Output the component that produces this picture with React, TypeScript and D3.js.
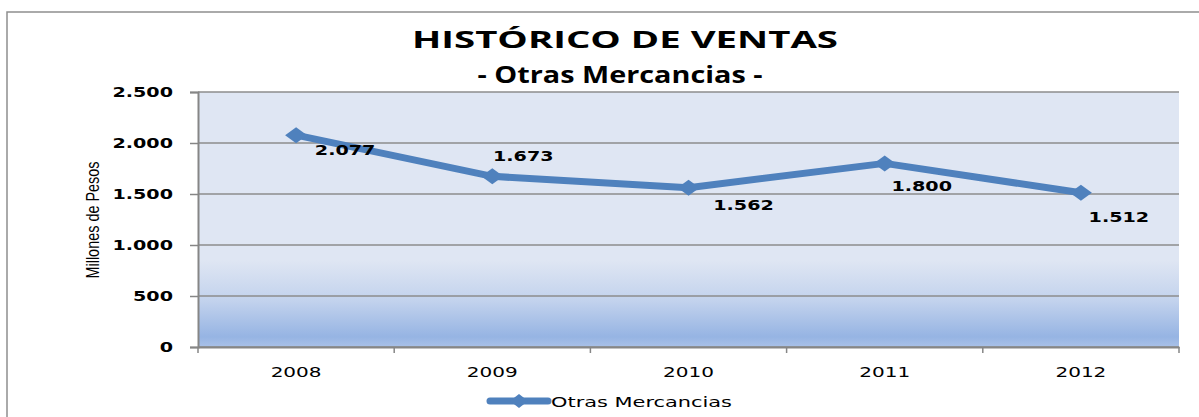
import { useEffect, useRef } from 'react'
import * as d3 from 'd3'

const years = ['2008', '2009', '2010', '2011', '2012']
const ventas = [2077, 1673, 1562, 1800, 1512]
const yTicks = [0, 500, 1000, 1500, 2000, 2500]
// manual data label placement (dx, dy from the point), like the original chart
const labelDx = [49, 31, 55, 37, 38]
const labelDy = [20, -15, 22, 28, 29]

const W = 1199
const H = 417
const SX = 1.42 // the source picture is stretched horizontally

const fmt = (v: number) => (v === 0 ? '0' : d3.format(',')(v).replace(/,/g, '.'))

export default function App() {
  const svgRef = useRef<SVGSVGElement>(null)

  useEffect(() => {
    if (!svgRef.current) return
    const svg = d3.select(svgRef.current)
    svg.selectAll('*').remove()

    const margin = { top: 92, right: 20, bottom: 70, left: 198 }
    const w = 1179 - margin.left
    const h = 347 - margin.top

    // outer chart border
    svg.append('rect')
      .attr('x', 7).attr('y', 12).attr('width', W + 20).attr('height', H + 20)
      .attr('fill', '#fff').attr('stroke', '#8e8e8e').attr('stroke-width', 1.5)

    // titles
    svg.append('text')
      .attr('x', 625).attr('y', 48)
      .attr('text-anchor', 'middle').attr('font-family', 'Open Sans').attr('font-weight', 'bold')
      .attr('font-size', '23px').attr('fill', '#000')
      .attr('textLength', 426).attr('lengthAdjust', 'spacingAndGlyphs')
      .text('HISTÓRICO DE VENTAS')
    svg.append('text')
      .attr('x', 620).attr('y', 83)
      .attr('text-anchor', 'middle').attr('font-family', 'Open Sans').attr('font-weight', 'bold')
      .attr('font-size', '23.5px').attr('fill', '#000')
      .attr('textLength', 285).attr('lengthAdjust', 'spacingAndGlyphs')
      .text('- Otras Mercancias -')

    const defs = svg.append('defs')
    const grad = defs.append('linearGradient')
      .attr('id', 'plot-bg').attr('x1', '0%').attr('y1', '0%').attr('x2', '0%').attr('y2', '100%')
    grad.append('stop').attr('offset', '0%').attr('stop-color', '#dfe6f3')
    grad.append('stop').attr('offset', '66%').attr('stop-color', '#dfe6f3')
    grad.append('stop').attr('offset', '82%').attr('stop-color', '#c2d2ed')
    grad.append('stop').attr('offset', '96%').attr('stop-color', '#96b4e3')
    grad.append('stop').attr('offset', '100%').attr('stop-color', '#a9c1e8')

    const g = svg.append('g').attr('transform', `translate(${margin.left},${margin.top})`)

    const x = d3.scaleBand().domain(years).range([0, w])
    const y = d3.scaleLinear().domain([0, 2500]).range([h, 0])

    g.append('rect').attr('width', w).attr('height', h).attr('fill', 'url(#plot-bg)')

    // gridlines
    g.append('g').selectAll('line').data(yTicks).join('line')
      .attr('x1', 0).attr('x2', w)
      .attr('y1', d => y(d)).attr('y2', d => y(d))
      .attr('stroke', '#8c8c8c').attr('stroke-width', 1.5)

    // y axis
    const yAxis = g.append('g').call(d3.axisLeft(y).tickValues(yTicks).tickSize(8).tickPadding(18).tickFormat(d => fmt(+d)))
    yAxis.select('.domain').attr('stroke', '#868686').attr('stroke-width', 2)
    yAxis.selectAll('.tick line').attr('stroke', '#868686').attr('stroke-width', 1.5)
    yAxis.selectAll<SVGTextElement, number>('.tick text')
      .attr('font-family', 'DejaVu Sans').attr('font-weight', 'bold').attr('font-size', '13.5px')
      .attr('fill', '#000').attr('dy', '0.36em')
      .attr('transform', `scale(${SX},1)`)
      .attr('x', -25 / SX)

    // x axis
    const xAxis = g.append('g').attr('transform', `translate(0,${h})`)
      .call(d3.axisBottom(x).tickSize(0).tickPadding(20))
    xAxis.select('.domain').attr('stroke', '#868686').attr('stroke-width', 2)
    xAxis.selectAll<SVGTextElement, string>('.tick text')
      .attr('font-family', 'DejaVu Sans').attr('font-size', '14.5px').attr('fill', '#000')
      .attr('transform', `scale(${1.38},1)`).attr('dy', '0.72em')
    // category boundary ticks
    xAxis.append('g').selectAll('line').data(d3.range(years.length + 1)).join('line')
      .attr('x1', i => i * x.step()).attr('x2', i => i * x.step())
      .attr('y1', 0).attr('y2', 6)
      .attr('stroke', '#868686').attr('stroke-width', 1.5)

    // axis title
    svg.append('text')
      .attr('transform', 'translate(99,220) rotate(-90)')
      .attr('text-anchor', 'middle').attr('font-family', 'Liberation Sans Narrow, Liberation Sans')
      .attr('font-size', '19px').attr('fill', '#000')
      .attr('textLength', 117).attr('lengthAdjust', 'spacingAndGlyphs')
      .text('Millones de Pesos')

    const pts = ventas.map((v, i) => ({ x: x(years[i])! + x.bandwidth() / 2, y: y(v), v, i }))

    // series line
    const line = d3.line<{ x: number; y: number }>().x(d => d.x).y(d => d.y)
    g.append('path').datum(pts)
      .attr('fill', 'none').attr('stroke', '#4f81bd').attr('stroke-width', 7)
      .attr('stroke-linejoin', 'round')
      .attr('d', line)

    const diamond = (cx: number, cy: number, rx: number, ry: number) =>
      `M${cx - rx},${cy}L${cx},${cy - ry}L${cx + rx},${cy}L${cx},${cy + ry}Z`

    g.append('g').selectAll('path').data(pts).join('path')
      .attr('d', d => diamond(d.x, d.y, 11, 8))
      .attr('fill', '#4f81bd')

    // data labels
    g.append('g').selectAll('text').data(pts).join('text')
      .attr('transform', d => `translate(${d.x + labelDx[d.i]},${d.y + labelDy[d.i]}) scale(${SX},1)`)
      .attr('text-anchor', 'middle')
      .attr('font-family', 'DejaVu Sans').attr('font-weight', 'bold').attr('font-size', '13.5px')
      .attr('fill', '#000')
      .text(d => fmt(d.v))

    // legend
    const lg = svg.append('g').attr('transform', 'translate(490,401)')
    lg.append('line').attr('x1', 0).attr('x2', 58).attr('y1', 0).attr('y2', 0)
      .attr('stroke', '#4f81bd').attr('stroke-width', 7).attr('stroke-linecap', 'round')
    lg.append('path').attr('d', diamond(29, 0, 9, 7)).attr('fill', '#4f81bd')
    lg.append('text')
      .attr('x', 61).attr('y', 6)
      .attr('font-family', 'DejaVu Sans').attr('font-size', '14px').attr('fill', '#000')
      .attr('textLength', 181).attr('lengthAdjust', 'spacingAndGlyphs')
      .text('Otras Mercancias')
  }, [])

  return (
    <svg
      ref={svgRef}
      width={W}
      height={H}
      style={{ position: 'absolute', left: 0, top: 0, background: '#fff' }}
    />
  )
}
